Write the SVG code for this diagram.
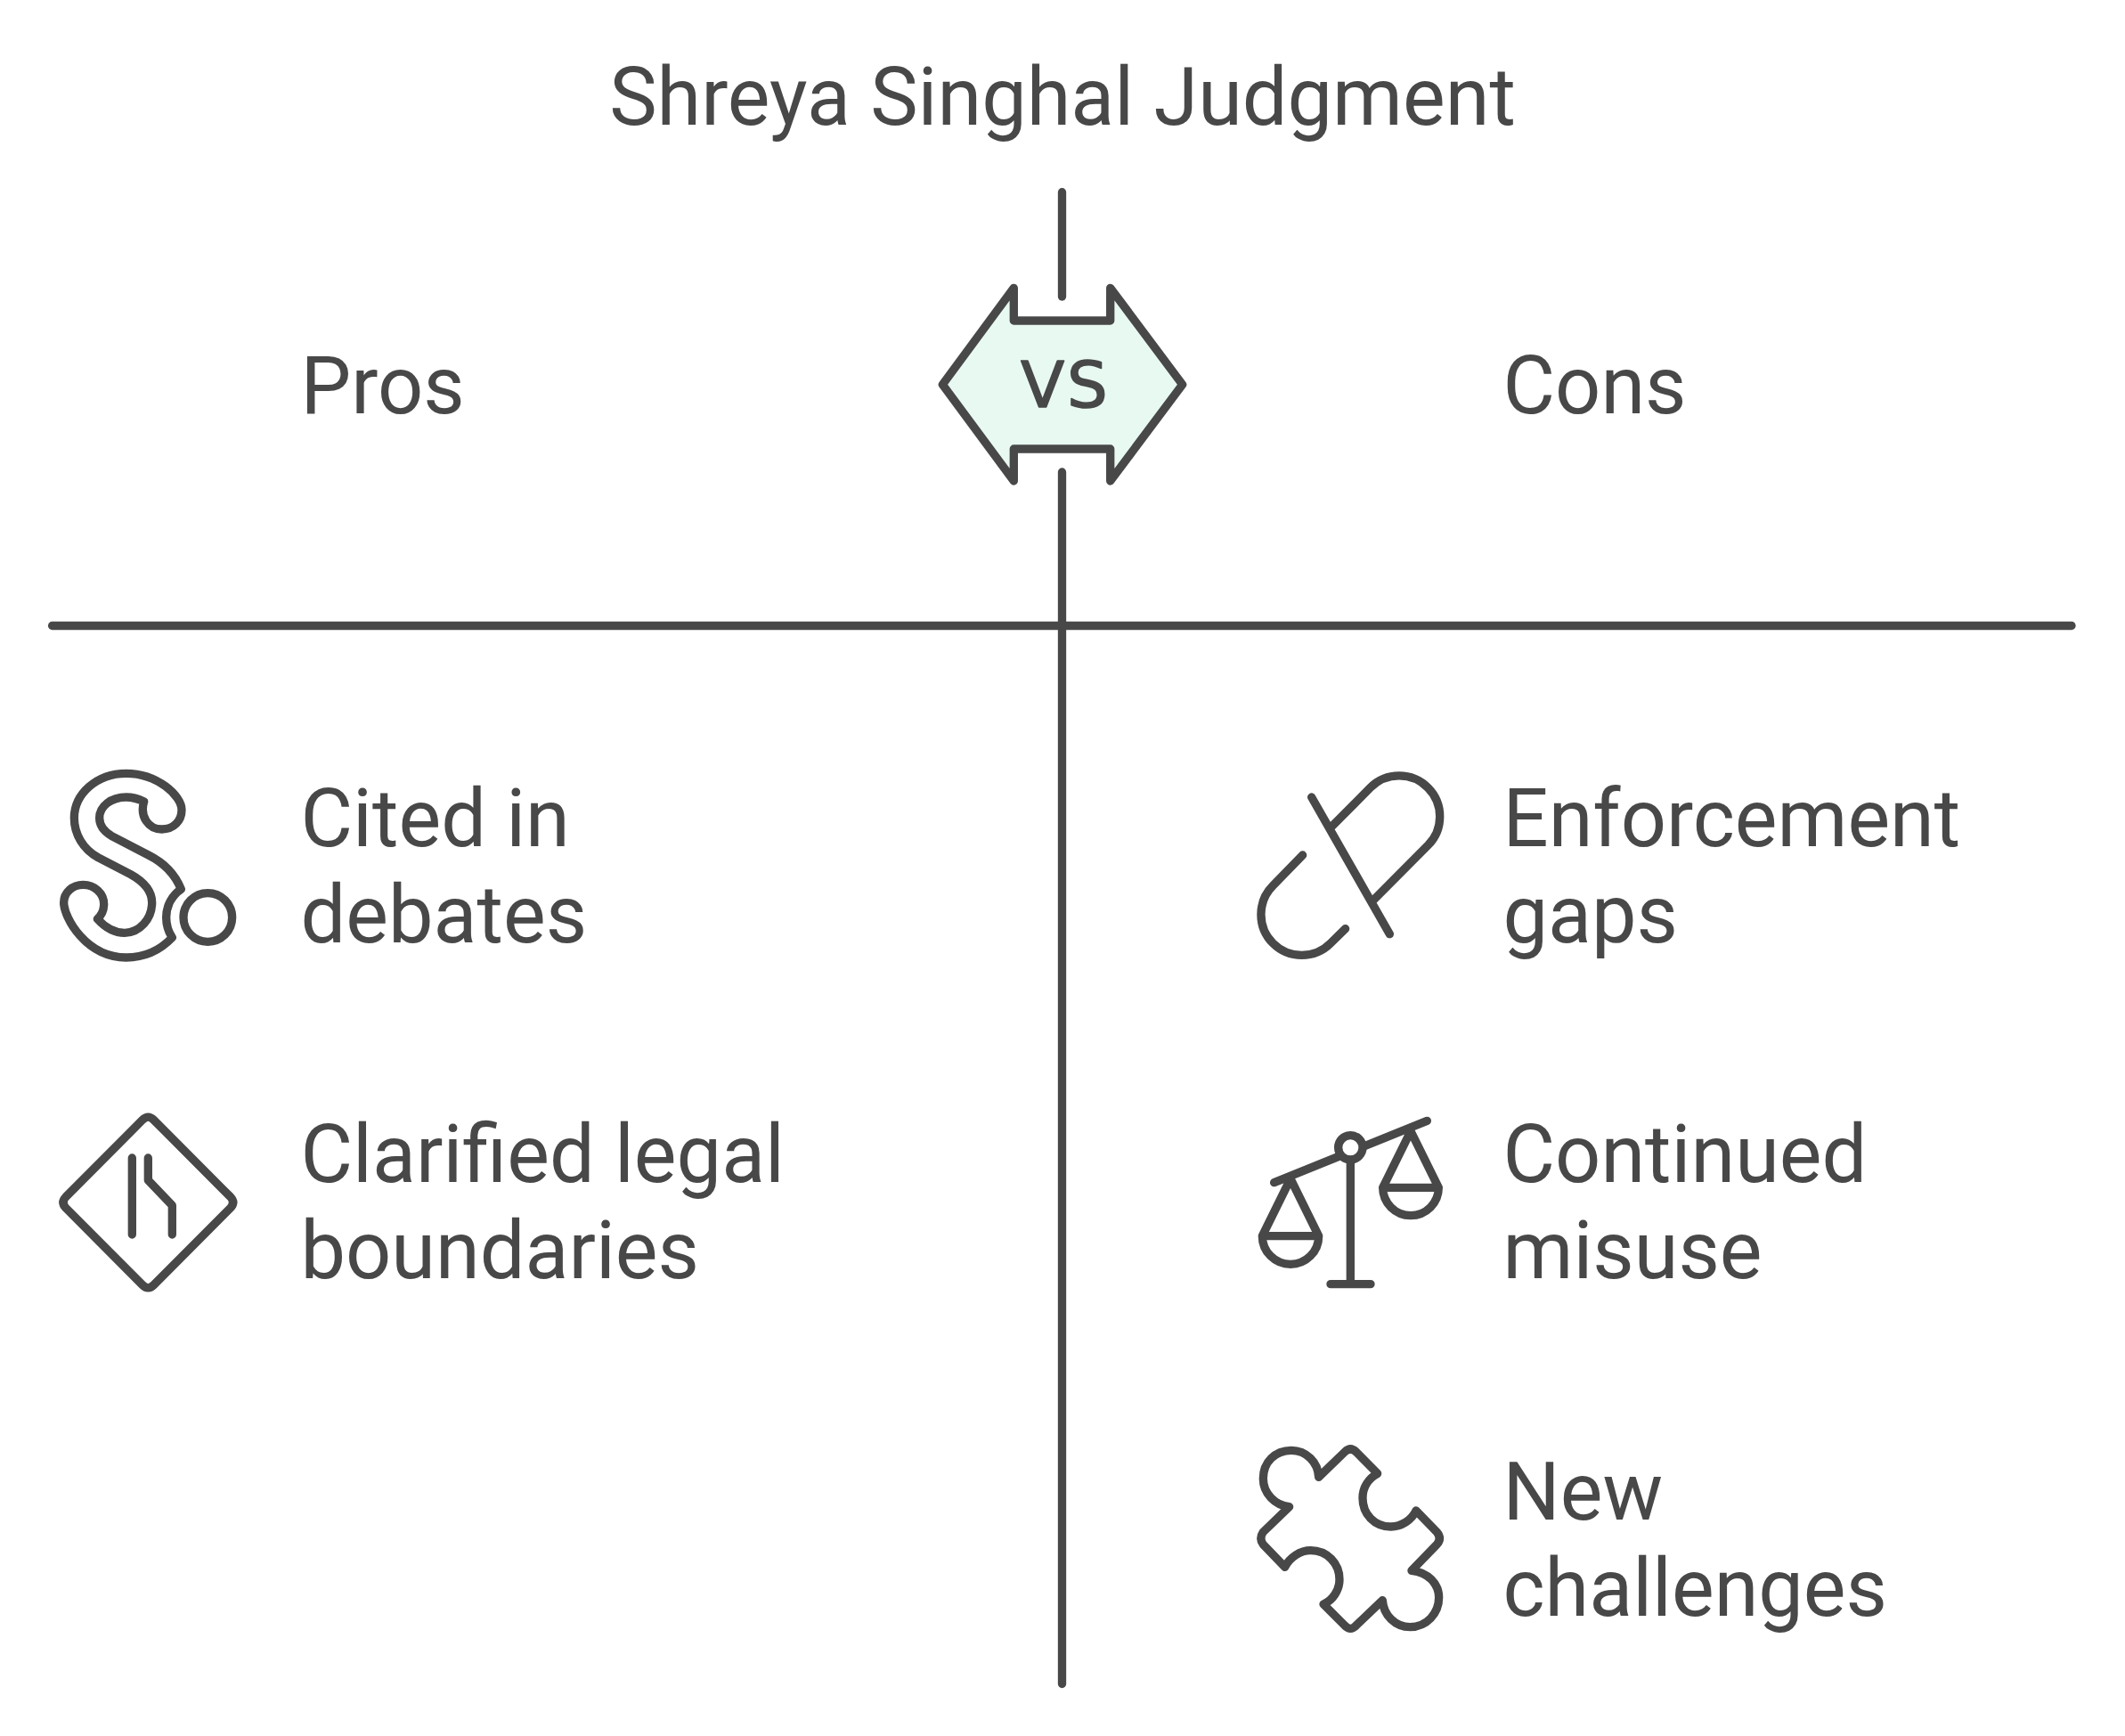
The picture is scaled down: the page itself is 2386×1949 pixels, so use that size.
<svg xmlns="http://www.w3.org/2000/svg" width="2386" height="1949" viewBox="0 0 2386 1949">
<style>
.t{font-family:Roboto,"Liberation Sans",sans-serif;font-size:90px;fill:#484848}
.title{text-anchor:middle}
.l{fill:none;stroke:#484848;stroke-width:9.33;stroke-linecap:round;stroke-linejoin:round}
.i{fill:none;stroke:#484848;stroke-width:28;stroke-linecap:round;stroke-linejoin:round}
</style>
<rect width="2386" height="1949" fill="#fff"/>
<text id="title" class="t title" x="1193" y="140">Shreya Singhal Judgment</text>
<g id="connectors">
<path class="l" d="M1192.5 215.7V333"/>
<path class="l" d="M1192.5 530V1890.5"/>
<path class="l" d="M58.6 702.5H2326"/>
</g>
<g id="vs">
<path class="l" style="fill:#e8f9f2" d="M1058.3 431.7L1138.3 323.3V360H1246.7V323.3L1327.7 431.7L1246.7 540V504H1138.3V540Z"/>
<text x="1146 1198" y="457" style="font-family:'DejaVu Sans',sans-serif;font-size:72px;fill:#484848;stroke:#484848;stroke-width:1.5;stroke-linejoin:round">VS</text>
</g>
<g id="pros"><text class="t" x="337.5" y="464">Pros</text></g>
<g id="cons"><text class="t" x="1687.5" y="464">Cons</text></g>
<g id="cited">
<path class="i" transform="translate(50 850) scale(.3333)" d="M335 150C320 200 350 243 395 243C435 243 462 215 462 178C462 130 380 55 275 55C175 55 100 125 100 205C100 260 130 310 180 338L290 395C335 420 362 450 362 490C362 545 320 592 270 592C235 592 205 575 178 545C195 530 200 510 200 495C200 460 170 430 130 430C95 430 65 455 65 490C65 540 140 675 275 675C340 675 390 650 430 608C415 585 410 565 410 540C410 500 430 465 460 445C440 395 400 355 350 330L225 265C200 250 185 230 185 205C185 165 225 135 275 135C295 135 315 140 335 150Z"/>
<circle class="i" transform="translate(50 850) scale(.3333)" cx="550" cy="540" r="82"/>
<text class="t" x="337.5" y="950">Cited in</text><text class="t" x="337.5" y="1058">debates</text>
</g>
<g id="clarified">
<path class="i" transform="translate(50 1240) scale(.3333)" d="M330 52Q349 33 368 52L626 311Q644 330 626 349L368 608Q349 627 330 608L72 349Q54 330 72 311ZM295 180V438M349 180V255L430 340V438"/>
<text class="t" x="337.5" y="1327">Clarified legal</text><text class="t" x="337.5" y="1435">boundaries</text>
</g>
<g id="enforcement">
<path class="i" transform="translate(1400 860) scale(.3333)" d="M218 105L481 566M285 205L416 73A137 137 0 0 1 610 267L428 450M188 300L88 403A137 137 0 0 0 282 597L332 548"/>
<text class="t" x="1687.5" y="950">Enforcement</text><text class="t" x="1687.5" y="1058">gaps</text>
</g>
<g id="continued">
<path class="i" transform="translate(1400 1240) scale(.3333)" d="M92 263L607 55M349 190V605M282 605H417M147 250L52 443A95 95 0 0 0 242 443ZM52 443H242M552 90L458 280A94 94 0 0 0 646 280ZM458 280H646"/>
<circle class="i" style="fill:#fff" transform="translate(1400 1240) scale(.3333)" cx="349" cy="145" r="41"/>
<text class="t" x="1687.5" y="1327">Continued</text><text class="t" x="1687.5" y="1435">misuse</text>
</g>
<g id="new">
<path class="i" transform="translate(1400 1610) scale(.3333)" d="M242 145L330 60Q349 42 368 60L440 133C410 150 390 180 390 215C390 270 430 312 485 312C520 312 555 290 570 258L640 330Q658 352 640 372L555 460C610 465 647 505 647 550C647 605 605 650 550 650C500 650 460 610 457 560L368 645Q349 665 330 645L258 573C290 560 312 525 312 490C312 435 270 392 215 392C180 392 145 415 128 448L55 372Q40 352 55 330L143 245C95 240 55 200 55 150C55 95 95 55 150 55C200 55 240 95 242 145Z"/>
<text class="t" x="1687.5" y="1706">New</text><text class="t" x="1687.5" y="1814">challenges</text>
</g>
</svg>
